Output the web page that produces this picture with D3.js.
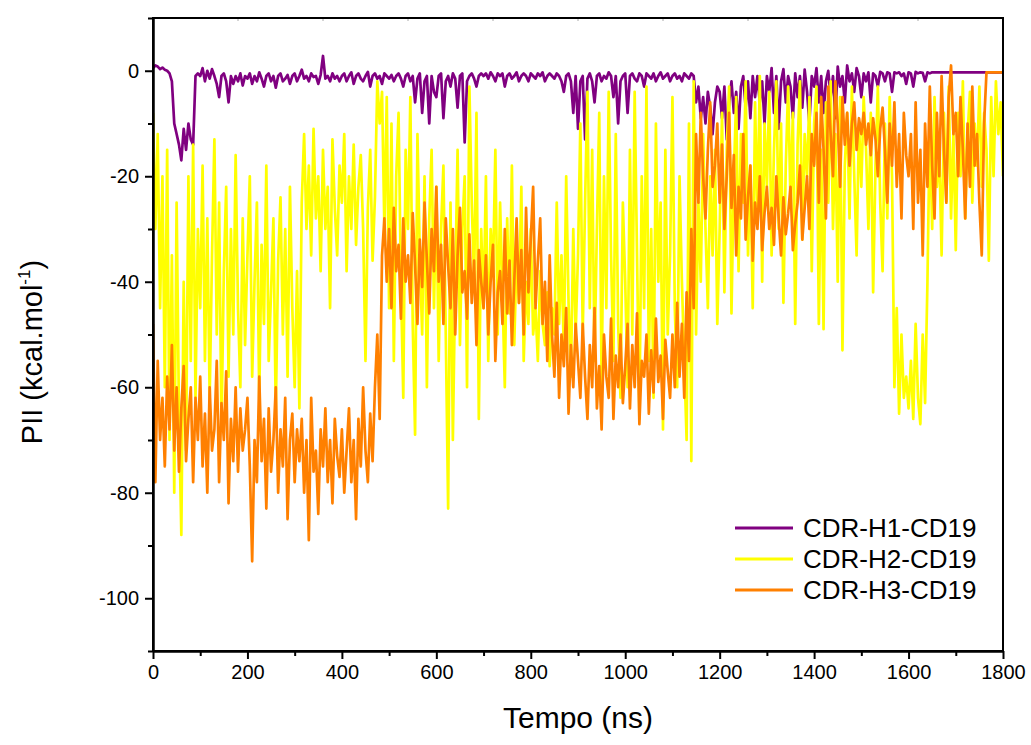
<!DOCTYPE html>
<html>
<head>
<meta charset="utf-8">
<script src="https://cdn.jsdelivr.net/npm/d3@7"></script>
<style>
  body { margin: 0; background: #fff; }
  svg { font-family: "Liberation Sans", Arial, sans-serif; }
</style>
</head>
<body>
<svg id="chart"></svg>
<script>
// PII over time, one value every 5 ns (0..1800)
var seriesNames = ['CDR-H1-CD19', 'CDR-H2-CD19', 'CDR-H3-CD19'];
var seriesColors = ['#800080', '#ffff00', '#ff8000'];

var h1 = [
  0.5, 1, 0.8, 0.3, 0.6, 0.2, 0, -0.5, -2, -10, -12, -14, -17, -11, -15, -10, -13, -14, -1, -0.5,
  -1, 0.5, -2, 0, -1.5, 0.3, -1, -2.5, -5, -1, -0.5, -2, -6, -1, -2.5, -1, -2, -0.5, -2.8, -1,
  -1.5, -0.5, -2.5, -1, -2, -0.3, -1.5, -3, -1, -0.5, -2, -1, -3.2, -1, -0.5, -2, -1.5, -0.8, -2.5, -1,
  -0.5, -2, -1, 0.2, -1.5, -1, -2, -0.5, -1.2, -1, -2.5, -0.8, 2.8, -1.5, -1, -2, -0.5, -1.5, -1, -2,
  -1, -0.5, -2, -1, -0.3, -2.5, -1, -0.5, -1.5, -2, -1, -0.2, -3, -1, -0.5, -1.5, -1, -2.5, -0.5, -1,
  -1.5, -0.8, -2, -1, -0.5, -1.5, -3, -1, -0.5, -2, -1, -6, -1.5, -0.5, -8, -2, -1, -10, -1, -4,
  -5, -1, -0.5, -9, -2, -1, -3, -0.5, -1.5, -7, -1, -0.5, -13.6, -2, -1, -0.5, -1.5, -3, -1, -0.5,
  -1, -0.5, -1.5, -0.3, -1, -2, -0.5, -1, -0.5, -3, -1, -0.5, -1.5, -1, -0.3, -2, -1, -0.5, -1, -2,
  -0.5, -1, -1.5, -0.5, -1, -0.3, -2, -1, -0.5, -1, -1.5, -0.5, -1, -2, -4, -1, -0.5, -2, -8, -1,
  -11, -2, -1, -13, -1.5, -0.5, -2, -6, -1, -0.5, -2, -1, -1.5, -0.3, -1, -5, -1, -10, -2, -1,
  -0.5, -8, -1, -0.5, -1.5, -2, -0.5, -1, -3, -0.5, -1, -1.5, -0.5, -2, -1, -0.3, -1.5, -1, -0.5, -2,
  -1, -0.5, -1.5, -1, -2, -0.5, -1, -1.5, -0.5, -1, -6, -3, -9, -5, -10, -4, -7, -12, -6, -3,
  -4, -9, -3, -13, -6, -2, -8, -4, -11, -3, -1, -7, -2, -9, -1, -5, -1, -6, -2, -10,
  -1, -4, 0.5, -8, -1, -11, -2, 0.3, -6, -1, -3, -9, -0.5, -5, -1, -7, 0.2, -4, -10, -1,
  -3, 0.5, -6, -1, -8, -2, 0, -5, -1, -9, 0.8, -3, -1, -6, 1, -2, -0.5, -4, 0.5, -1,
  -5, -0.5, -2, -0.3, -6, -0.5, -1, -3, -0.2, -0.5, -2, -0.3, -0.5, -4, -0.3, -0.5, -0.3, -1, -0.5, -2.5,
  -0.3, -0.5, -3, -0.2, -0.5, -0.3, -0.4, -2, -0.3, -0.5, -0.3, -0.3, -0.3, -0.3, -0.3, -0.3, -0.3, -0.3, -0.3, -0.3,
  -0.3, -0.3, -0.3, -0.3, -0.3, -0.3, -0.3, -0.3, -0.3, -0.3, -0.3, -0.3, -0.3, -0.3, -0.3, -0.3, -0.3, -0.3, -0.3, -0.3, -0.3
];

var h2 = [
  -8, -30, -12, -45, -20, -60, -15, -70, -35, -80, -25, -65, -88, -40, -72, -20, -55, -14, -62, -30,
  -45, -18, -55, -28, -62, -35, -13, -50, -25, -68, -38, -22, -58, -30, -50, -16, -45, -60, -28, -52,
  -35, -20, -58, -40, -25, -62, -33, -48, -18, -55, -42, -28, -65, -36, -24, -50, -30, -58, -22, -45,
  -60, -38, -64, -25, -12, -30, -18, -35, -11, -28, -20, -38, -15, -30, -22, -45, -13, -26, -35, -18,
  -25, -12, -38, -20, -30, -14, -33, -22, -16, -30, -55, -26, -15, -36, -24, -2, -10, -4, -30, -5,
  -45, -10, -55, -20, -8, -40, -62, -15, -30, -5, -48, -69, -12, -35, -50, -20, -60, -28, -15, -45,
  -22, -55, -30, -18, -50, -83, -25, -70, -40, -15, -52, -30, -20, -60, -3, -25, -40, -8, -66, -30,
  -45, -20, -55, -30, -38, -15, -50, -25, -42, -60, -28, -46, -18, -52, -35, -44, -22, -55, -40, -48,
  -30, -50, -45, -55, -38, -48, -52, -42, -56, -45, -50, -25, -48, -35, -53, -20, -44, -58, -30, -50,
  -35, -10, -50, -25, -4, -45, -15, -55, -30, -8, -60, -20, -45, -4, -35, -55, -12, -48, -62, -25,
  -40, -60, -15, -50, -4, -35, -66, -20, -45, -3, -55, -30, -62, -10, -40, -25, -68, -15, -50, -35,
  -5, -45, -60, -20, -40, -55, -70, -10, -74, -2, -50, -25, -40, -12, -30, -45, -20, -35, -15, -48,
  -30, -8, -42, -15, -3, -46, -20, -5, -38, -12, -25, -2, -35, -18, -45, -6, -28, -1, -40, -10,
  -22, -4, -35, -15, -2, -30, -10, -44, -18, -3, -25, -8, -48, -14, -2, -32, -12, -20, -5, -38,
  -10, -3, -48, -15, -49, -6, -25, -2, -30, -12, -40, -5, -53, -18, -8, -28, -3, -20, -35, -10,
  -22, -5, -15, -30, -8, -42, -18, -3, -25, -38, -10, -28, -5, -20, -60, -45, -65, -50, -62, -58,
  -64, -55, -66, -48, -62, -67, -50, -63, -40, -10, -30, -5, -22, -15, -35, -8, -25, -3, -28, -12,
  -34, -8, -20, -2, -28, -12, -4, -25, -10, -18, -3, -22, -8, -15, -36, -5, -20, -2, -12, -6, -20
];

var h3 = [
  -48, -78, -55, -70, -62, -75, -58, -68, -52, -72, -60, -76, -64, -56, -74, -66, -60, -78, -62, -70,
  -58, -75, -65, -80, -60, -72, -68, -55, -78, -63, -70, -57, -82, -66, -74, -60, -76, -64, -72, -68,
  -62, -75, -93, -70, -78, -58, -74, -66, -83, -64, -76, -70, -60, -80, -68, -75, -62, -85, -70, -65,
  -78, -68, -74, -66, -80, -70, -89, -62, -76, -72, -84, -68, -75, -64, -78, -70, -82, -66, -73, -77,
  -68, -80, -72, -64, -78, -70, -85, -66, -75, -60, -72, -78, -65, -74, -60, -50, -66, -35, -28, -40,
  -30, -45, -26, -38, -33, -47, -28, -40, -35, -44, -27, -37, -48, -32, -41, -25, -36, -46, -30, -38,
  -22, -40, -33, -48, -28, -37, -45, -30, -50, -35, -26, -42, -38, -47, -31, -44, -36, -52, -34, -40,
  -45, -35, -50, -40, -33, -55, -42, -38, -48, -30, -46, -36, -52, -40, -28, -44, -34, -50, -26, -42,
  -32, -22, -45, -36, -28, -48, -40, -55, -35, -50, -58, -44, -62, -50, -56, -45, -65, -52, -60, -48,
  -55, -62, -48, -58, -66, -52, -60, -45, -64, -56, -68, -50, -58, -62, -47, -66, -54, -60, -50, -63,
  -56, -48, -64, -52, -60, -46, -67, -55, -58, -50, -65, -53, -61, -47, -59, -54, -66, -51, -57, -62,
  -50, -60, -44, -58, -48, -62, -42, -55, -30, -45, -12, -25, -8, -20, -28, -15, -6, -22, -18, -10,
  -25, -14, -30, -20, -8, -26, -16, -35, -22, -28, -12, -32, -24, -18, -36, -25, -30, -20, -34, -27,
  -22, -30, -26, -33, -20, -28, -35, -24, -31, -27, -22, -34, -29, -25, -18, -32, -26, -20, -30, -12,
  -18, -8, -25, -5, -15, -28, -3, -12, -20, -2, -10, -22, -5, -14, -8, -18, -10, -6, -15, -9,
  -12, -8, -14, -10, -16, -9, -13, -20, -11, -7, -15, -25, -10, -18, -6, -22, -12, -28, -8, -16,
  -20, -12, -30, -6, -25, -15, -35, -10, -22, -3, -18, -28, -8, -20, -1, -15, -25, -5, 1, -12,
  -8, -20, -5, -15, -28, -10, -22, -3, -18, -12, -25, -35, -10, -0.3, -0.3, -0.3, -0.3, -0.3, -0.3, -0.3, -0.3
];

var timeStep = 5;
var xMajor = [0, 200, 400, 600, 800, 1000, 1200, 1400, 1600, 1800];
var xMinor = [100, 300, 500, 700, 900, 1100, 1300, 1500, 1700];
var yMajor = [-100, -80, -60, -40, -20, 0];
var yMinor = [-110, -90, -70, -50, -30, -10, 10];

var W = 1031, H = 745;
var margin = { top: 18, right: 28, bottom: 94, left: 153 };
var width = W - margin.left - margin.right;
var height = H - margin.top - margin.bottom;

var svg = d3.select('#chart')
  .attr('width', W)
  .attr('height', H);

var g = svg.append('g')
  .attr('transform', 'translate(' + margin.left + ',' + margin.top + ')');

var x = d3.scaleLinear().domain([0, 1800]).range([0, width]);
var y = d3.scaleLinear().domain([-110, 10]).range([height, 0]);

var line = d3.line()
  .x(function (d, i) { return x(i * timeStep); })
  .y(function (d) { return y(d); });

g.append('defs').append('clipPath').attr('id', 'clip')
  .append('rect').attr('width', width).attr('height', height);

var lines = g.append('g').attr('clip-path', 'url(#clip)');
[h1, h2, h3].forEach(function (data, k) {
  lines.append('path')
    .datum(data)
    .attr('d', line)
    .attr('fill', 'none')
    .attr('stroke', seriesColors[k])
    .attr('stroke-width', 2.7)
    .attr('stroke-linejoin', 'round');
});

// faint ticks along the top edge
g.append('g')
  .selectAll('line')
  .data(d3.range(1, 10))
  .join('line')
  .attr('x1', function (d) { return d * width / 10; })
  .attr('x2', function (d) { return d * width / 10; })
  .attr('y1', 0).attr('y2', 3)
  .attr('stroke', '#aaa').attr('stroke-width', 1);

// frame
g.append('rect')
  .attr('width', width).attr('height', height)
  .attr('fill', 'none').attr('stroke', '#000').attr('stroke-width', 2);

function styleAxis(sel) {
  sel.select('.domain').attr('stroke-width', 2);
  sel.selectAll('.tick line').attr('stroke-width', 2);
  sel.selectAll('.tick text')
    .attr('font-family', '"Liberation Sans", Arial, sans-serif')
    .attr('font-size', 20)
    .attr('fill', '#000');
}

var xAxis = g.append('g')
  .attr('transform', 'translate(0,' + height + ')')
  .call(d3.axisBottom(x).tickValues(xMajor).tickSize(8).tickSizeOuter(0).tickPadding(6)
    .tickFormat(function (d) { return String(d); }));
styleAxis(xAxis);

var xAxisMinor = g.append('g')
  .attr('transform', 'translate(0,' + height + ')')
  .call(d3.axisBottom(x).tickValues(xMinor).tickSize(5).tickSizeOuter(0).tickFormat(''));
styleAxis(xAxisMinor);

var yAxis = g.append('g')
  .call(d3.axisLeft(y).tickValues(yMajor).tickSize(8).tickSizeOuter(0).tickPadding(6)
    .tickFormat(function (d) { return String(d); }));
styleAxis(yAxis);

var yAxisMinor = g.append('g')
  .call(d3.axisLeft(y).tickValues(yMinor).tickSize(5).tickSizeOuter(0).tickFormat(''));
styleAxis(yAxisMinor);

// axis titles
svg.append('text')
  .attr('x', margin.left + width / 2)
  .attr('y', 728)
  .attr('text-anchor', 'middle')
  .attr('font-size', 30)
  .text('Tempo (ns)');

var yTitle = svg.append('text')
  .attr('transform', 'translate(42,352) rotate(-90)')
  .attr('text-anchor', 'middle')
  .attr('font-size', 29);
yTitle.append('tspan').text('PII (kcal.mol');
yTitle.append('tspan').attr('font-size', 17).attr('dy', -12).text('-1');
yTitle.append('tspan').attr('dy', 12).text(')');

// legend
var legend = svg.append('g').attr('transform', 'translate(735,528)');
seriesNames.forEach(function (name, k) {
  var row = legend.append('g').attr('transform', 'translate(0,' + (k * 31) + ')');
  row.append('line')
    .attr('x1', 0).attr('x2', 58)
    .attr('stroke', seriesColors[k]).attr('stroke-width', 3);
  row.append('text')
    .attr('x', 68).attr('dy', '0.36em')
    .attr('font-size', 26)
    .text(name);
});
</script>
</body>
</html>
